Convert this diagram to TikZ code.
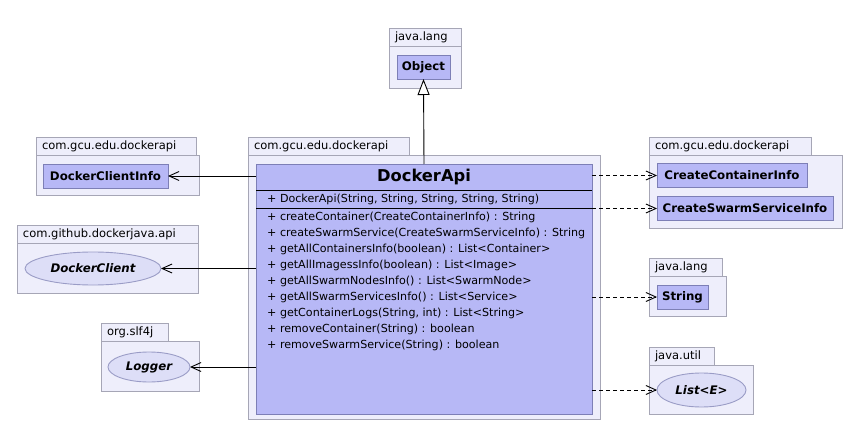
\documentclass[tikz,border=0pt]{standalone}
\usepackage{fontspec}
\setmainfont{DejaVu Sans}
\usepackage{xcolor}
\usetikzlibrary{positioning}
\usetikzlibrary{arrows.meta}
\usetikzlibrary{shapes}

\definecolor{pkgfill}{HTML}{EEEEFB}
\definecolor{pkgdraw}{HTML}{A6A6B6}
\definecolor{clsfill}{HTML}{B7B8F6}
\definecolor{clsdraw}{HTML}{7D7FB6}
\definecolor{ifacefill}{HTML}{DDDEF7}
\definecolor{ifacedraw}{HTML}{9A9CC6}

\begin{document}
\begin{tikzpicture}[x=1pt, y=-1pt,
        pkgbody/.style = { draw = pkgdraw, fill = pkgfill, anchor = north west, inner sep=0pt, outer sep=0pt, line width=0.9pt },
        pkgtab/.style = { draw = pkgdraw, fill = pkgfill, anchor = north west, inner xsep=6pt, inner ysep=0pt, outer sep=0pt, minimum height = 18pt, align = left, font = \fontsize{11.5}{13}\selectfont, line width=0.9pt },
        cls/.style = { draw = clsdraw, fill = clsfill, minimum height = 24pt, inner sep=0pt, outer sep=0pt, font = \fontsize{11.8}{14}\selectfont\bfseries, line width=0.9pt },
        iface/.style = { ellipse, draw = ifacedraw, fill = ifacefill, inner sep=0pt, outer sep=0pt, font = \fontsize{11.8}{14}\selectfont\bfseries\itshape, line width=0.9pt },
        member/.style = { anchor = west, inner sep=0pt, font = \fontsize{11.1}{16}\selectfont, text height = 8pt, text depth = 2.5pt },
        assoc/.style = { -{Straight Barb[length=10pt, width=9pt]}, line width=0.9pt },
        dep/.style = { assoc, dash pattern = on 4pt off 3pt },
        gen/.style = { -{Triangle[length=16pt, width=12pt, fill=white]}, line width=0.9pt },
    ]
        \useasboundingbox (0,0) rectangle (863,433);

        % packages
        \node[pkgtab, text width=60pt] (tabLangA) at (389,28) {java.lang};
        \node[pkgbody, minimum width=72pt, minimum height=42pt] (pkgLangA) at (389,46) {};
        \node[pkgtab, text width=148pt] (tabInfo) at (36,137) {com.gcu.edu.dockerapi};
        \node[pkgbody, minimum width=163pt, minimum height=40pt] (pkgInfo) at (36,155) {};
        \node[pkgtab, text width=149pt] (tabMain) at (248,137) {com.gcu.edu.dockerapi};
        \node[pkgbody, minimum width=352pt, minimum height=264pt] (pkgMain) at (248,155) {};
        \node[pkgtab, text width=150pt] (tabCreate) at (649,137) {com.gcu.edu.dockerapi};
        \node[pkgbody, minimum width=193pt, minimum height=73pt] (pkgCreate) at (649,155) {};
        \node[pkgtab, text width=169pt] (tabJava) at (17,225) {com.github.dockerjava.api};
        \node[pkgbody, minimum width=181pt, minimum height=50pt] (pkgJava) at (17,243) {};
        \node[pkgtab, text width=55pt] (tabSlf) at (101,323) {org.slf4j};
        \node[pkgbody, minimum width=98pt, minimum height=50pt] (pkgSlf) at (101,341) {};
        \node[pkgtab, text width=61pt] (tabLangB) at (649,258) {java.lang};
        \node[pkgbody, minimum width=77pt, minimum height=40pt] (pkgLangB) at (649,276) {};
        \node[pkgtab, text width=53pt] (tabUtil) at (649,347) {java.util};
        \node[pkgbody, minimum width=104pt, minimum height=49pt] (pkgUtil) at (649,365) {};

        % classes
        \node[cls, minimum width=53pt] (Object) at (423.5,67) {Object};
        \node[cls, minimum width=125pt] (DockerClientInfo) at (105.5,176) {DockerClientInfo};
        \node[cls, minimum width=150pt] (CreateContainerInfo) at (732,175.5) {CreateContainerInfo};
        \node[cls, minimum width=176pt] (CreateSwarmServiceInfo) at (745,208.5) {CreateSwarmServiceInfo};
        \node[cls, minimum width=51pt] (String) at (682.5,297) {String};
        \node[iface, minimum width=136pt, minimum height=33pt] (DockerClient) at (93,268.5) {DockerClient};
        \node[iface, minimum width=82pt, minimum height=30pt] (Logger) at (149,367) {Logger};
        \node[iface, minimum width=89pt, minimum height=34pt] (ListE) at (701.5,390) {List<E>};

        % main class
        \node[cls, anchor=north west, minimum width=336pt, minimum height=250pt] (DockerApi) at (256,164) {};
        \node[font=\fontsize{16.3}{18}\selectfont\bfseries, inner sep=0pt] (DockerApiName) at (424,177) {DockerApi};
        \draw[line width=0.9pt] ([yshift=-26pt]DockerApi.north west) -- ([yshift=-26pt]DockerApi.north east);
        \draw[line width=0.9pt] ([yshift=-44pt]DockerApi.north west) -- ([yshift=-44pt]DockerApi.north east);
        \node[member] (ctor) at (267,199.5) {+ DockerApi(String, String, String, String, String)};
        \foreach \m [count=\i from 0] in {
                {createContainer(CreateContainerInfo) : String},
                {createSwarmService(CreateSwarmServiceInfo) : String},
                {getAllContainersInfo(boolean) : List<Container>},
                {getAllImagessInfo(boolean) : List<Image>},
                {getAllSwarmNodesInfo() : List<SwarmNode>},
                {getAllSwarmServicesInfo() : List<Service>},
                {getContainerLogs(String, int) : List<String>},
                {removeContainer(String) : boolean},
                {removeSwarmService(String) : boolean}}
            \node[member] (op\i) at (267,218+16*\i) {+ \m};

        % connectors
        \draw[gen] (DockerApi.north) -- (Object.south);
        \draw[assoc] (DockerApi.west |- DockerClientInfo.east) -- (DockerClientInfo.east);
        \draw[assoc] (DockerApi.west |- DockerClient.east) -- (DockerClient.east);
        \draw[assoc] (DockerApi.west |- Logger.east) -- (Logger.east);
        \draw[dep] (DockerApi.east |- CreateContainerInfo.west) -- (CreateContainerInfo.west);
        \draw[dep] (DockerApi.east |- CreateSwarmServiceInfo.west) -- (CreateSwarmServiceInfo.west);
        \draw[dep] (DockerApi.east |- String.west) -- (String.west);
        \draw[dep] (DockerApi.east |- ListE.west) -- (ListE.west);
\end{tikzpicture}
\end{document}
